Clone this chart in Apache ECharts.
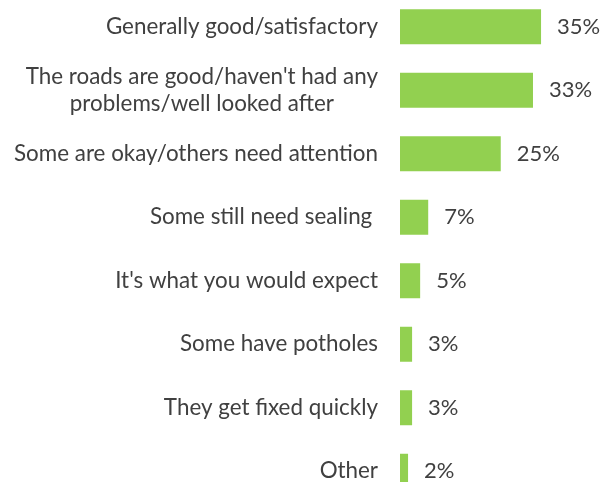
<!DOCTYPE html>
<html>
<head>
<meta charset="utf-8">
<script src="https://cdn.jsdelivr.net/npm/echarts@6/dist/echarts.min.js"></script>
<style>
  html, body { margin: 0; padding: 0; background: #fff; overflow: hidden; }
  #chart { position: absolute; left: 0; top: -5px; width: 606px; height: 510px; }
</style>
</head>
<body>
<div id="chart"></div>
<script>
// Survey responses about road condition, share of respondents (%)
const categories = [
  "Generally good/satisfactory",
  "The roads are good/haven't had any\nproblems/well looked after",
  "Some are okay/others need attention",
  "Some still need sealing ",
  "It's what you would expect",
  "Some have potholes",
  "They get fixed quickly",
  "Other"
];
const values = [35, 33, 25, 7, 5, 3, 3, 2];

const chart = echarts.init(document.getElementById('chart'));
const textColor = '#404040';
const fontFamily = 'Lato, "Open Sans", sans-serif';
const fontSize = 22.4;

chart.setOption({
  animation: false,
  grid: { left: 400, top: 0, height: 508, width: 201.5, containLabel: false },
  xAxis: {
    type: 'value', min: 0, max: 50,
    show: false
  },
  yAxis: {
    type: 'category',
    data: categories,
    inverse: true,
    axisLine: { show: false },
    axisTick: { show: false },
    splitLine: { show: false },
    axisLabel: {
      margin: 22,
      color: textColor,
      fontFamily: fontFamily,
      fontSize: fontSize,
      lineHeight: 27,
      formatter: function (v) {
        return v.split('\n').map(function (s) { return '{c|' + s + '}'; }).join('\n');
      },
      rich: {
        c: { align: 'center', color: textColor, fontFamily: fontFamily, fontSize: fontSize, lineHeight: 27 }
      }
    }
  },
  series: [{
    type: 'bar',
    data: values,
    barWidth: 35,
    itemStyle: { color: '#92D050' },
    label: {
      show: true,
      position: 'right',
      distance: 16,
      color: textColor,
      fontFamily: fontFamily,
      fontSize: 22,
      formatter: '{c}%'
    }
  }]
});
</script>
</body>
</html>
